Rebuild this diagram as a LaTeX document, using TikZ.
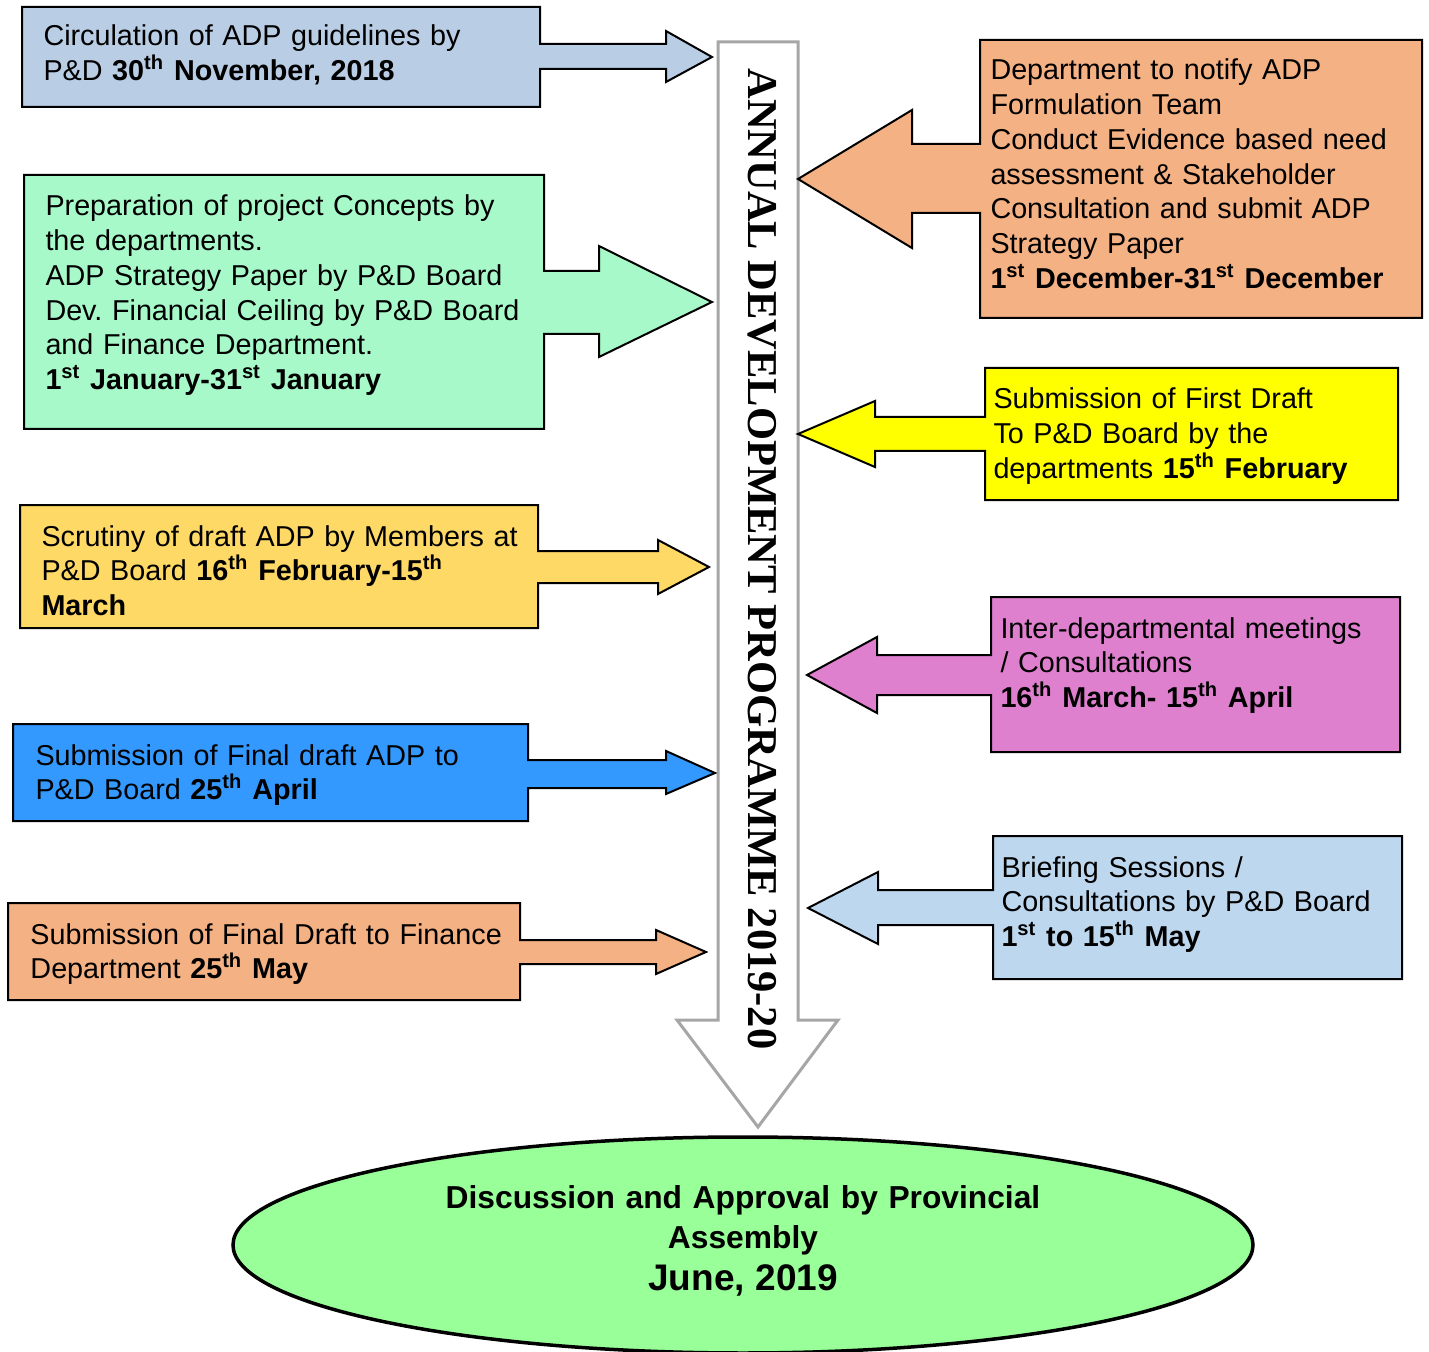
\documentclass[tikz,border=0pt]{standalone}
\usepackage{fontspec}
\setmainfont{Liberation Sans}
\newfontfamily\timesfont{Liberation Serif}
\usetikzlibrary{shapes.geometric}
\frenchspacing
\definecolor{steelblue}{HTML}{B9CDE5}
\definecolor{mint}{HTML}{A8F9C9}
\definecolor{gold}{HTML}{FED966}
\definecolor{azure}{HTML}{3399FF}
\definecolor{salmon}{HTML}{F4B183}
\definecolor{lemon}{HTML}{FFFF00}
\definecolor{orchid}{HTML}{DF80CF}
\definecolor{paleblue}{HTML}{BDD7EE}
\definecolor{lime}{HTML}{99FF99}
\definecolor{arrowgray}{HTML}{A6A6A6}

\begin{document}
\begin{tikzpicture}[x=0.4pt, y=-0.4pt,
  callout/.style={draw=black, line width=0.8pt},
  txt/.style={anchor=base west, inner sep=0pt, text width=220pt, align=left,
    font=\fontsize{11.5}{13.9}\selectfont}]
\useasboundingbox (0,0) rectangle (1429,1352);

\draw[draw=arrowgray, line width=1.2pt, fill=white] (718,42) -- (798,42) -- (798,1020) -- (838,1020)
  -- (758,1127) -- (677,1020) -- (718,1020) -- cycle;
\node[rotate=-90, inner sep=0pt, font=\timesfont\bfseries\fontsize{17}{20}\selectfont] (adp) at (762,559)
  {ANNUAL DEVELOPMENT PROGRAMME 2019-20};

\draw[callout, fill=steelblue] (22,7) -- (540,7) -- (540,44) -- (666,44) -- (666,31) -- (712,57)
  -- (666,82) -- (666,69) -- (540,69) -- (540,107) -- (22,107) -- cycle;
\draw[callout, fill=mint] (24,175) -- (544,175) -- (544,271) -- (599,271) -- (599,246) -- (712,302)
  -- (599,357) -- (599,334) -- (544,334) -- (544,429) -- (24,429) -- cycle;
\draw[callout, fill=gold] (20,505) -- (538,505) -- (538,551) -- (658,551) -- (658,540) -- (709,567)
  -- (658,594) -- (658,583) -- (538,583) -- (538,628) -- (20,628) -- cycle;
\draw[callout, fill=azure] (13,724) -- (528,724) -- (528,760) -- (666,760) -- (666,751) -- (715,773)
  -- (666,794) -- (666,788) -- (528,788) -- (528,821) -- (13,821) -- cycle;
\draw[callout, fill=salmon] (8,903) -- (520,903) -- (520,940) -- (656,940) -- (656,930) -- (706,952)
  -- (656,974) -- (656,964) -- (520,964) -- (520,1000) -- (8,1000) -- cycle;

\draw[callout, fill=salmon] (980,40) -- (1422,40) -- (1422,318) -- (980,318) -- (980,213) -- (912,213)
  -- (912,248) -- (798,179) -- (912,110) -- (912,144) -- (980,144) -- cycle;
\draw[callout, fill=lemon] (985,368) -- (1398,368) -- (1398,500) -- (985,500) -- (985,451) -- (875,451)
  -- (875,467) -- (798,434) -- (875,401) -- (875,417) -- (985,417) -- cycle;
\draw[callout, fill=orchid] (991,597) -- (1400,597) -- (1400,752) -- (991,752) -- (991,695) -- (877,695)
  -- (877,713) -- (807,675) -- (877,637) -- (877,655) -- (991,655) -- cycle;
\draw[callout, fill=paleblue] (993,836) -- (1402,836) -- (1402,979) -- (993,979) -- (993,925) -- (878,925)
  -- (878,944) -- (808,908) -- (878,872) -- (878,890) -- (993,890) -- cycle;

\node[txt] (circ) at (43,46) {Circulation of ADP guidelines by\\P\&D \textbf{30\textsuperscript{th} November, 2018}};
\node[txt] (prep) at (45,216) {Preparation of project Concepts by\\the departments.\\ADP Strategy Paper by P\&D Board\\Dev. Financial Ceiling by P\&D Board\\and Finance Department.\\\textbf{1\textsuperscript{st} January-31\textsuperscript{st} January}};
\node[txt] (scrut) at (41,546) {Scrutiny of draft ADP by Members at\\P\&D Board \textbf{16\textsuperscript{th} February-15\textsuperscript{th}}\\\textbf{March}};
\node[txt] (final) at (35,765) {Submission of Final draft ADP to\\P\&D Board \textbf{25\textsuperscript{th} April}};
\node[txt] (finance) at (30,944) {Submission of Final Draft to Finance\\Department \textbf{25\textsuperscript{th} May}};

\node[txt] (notify) at (990,80) {Department to notify ADP\\Formulation Team\\Conduct Evidence based need\\assessment \& Stakeholder\\Consultation and submit ADP\\Strategy Paper\\\textbf{1\textsuperscript{st} December-31\textsuperscript{st} December}};
\node[txt] (first) at (993,409) {Submission of First Draft\\To P\&D Board by the\\departments \textbf{15\textsuperscript{th} February}};
\node[txt] (inter) at (1000,638) {Inter-departmental meetings\\/ Consultations\\\textbf{16\textsuperscript{th} March- 15\textsuperscript{th} April}};
\node[txt] (brief) at (1001,877) {Briefing Sessions /\\Consultations by P\&D Board\\\textbf{1\textsuperscript{st} to 15\textsuperscript{th} May}};

\node[ellipse, draw, line width=1.4pt, fill=lime, minimum width=408pt, minimum height=86.4pt] (assembly) at (743,1245) {};
\node[anchor=base, inner sep=0pt, text width=420pt, align=center,
  font=\bfseries\fontsize{12.7}{16}\selectfont] (approval) at (743,1208)
  {Discussion and Approval by Provincial\\Assembly\\[0.8pt]{\fontsize{14.8}{17.6}\selectfont June, 2019}};
\end{tikzpicture}
\end{document}
